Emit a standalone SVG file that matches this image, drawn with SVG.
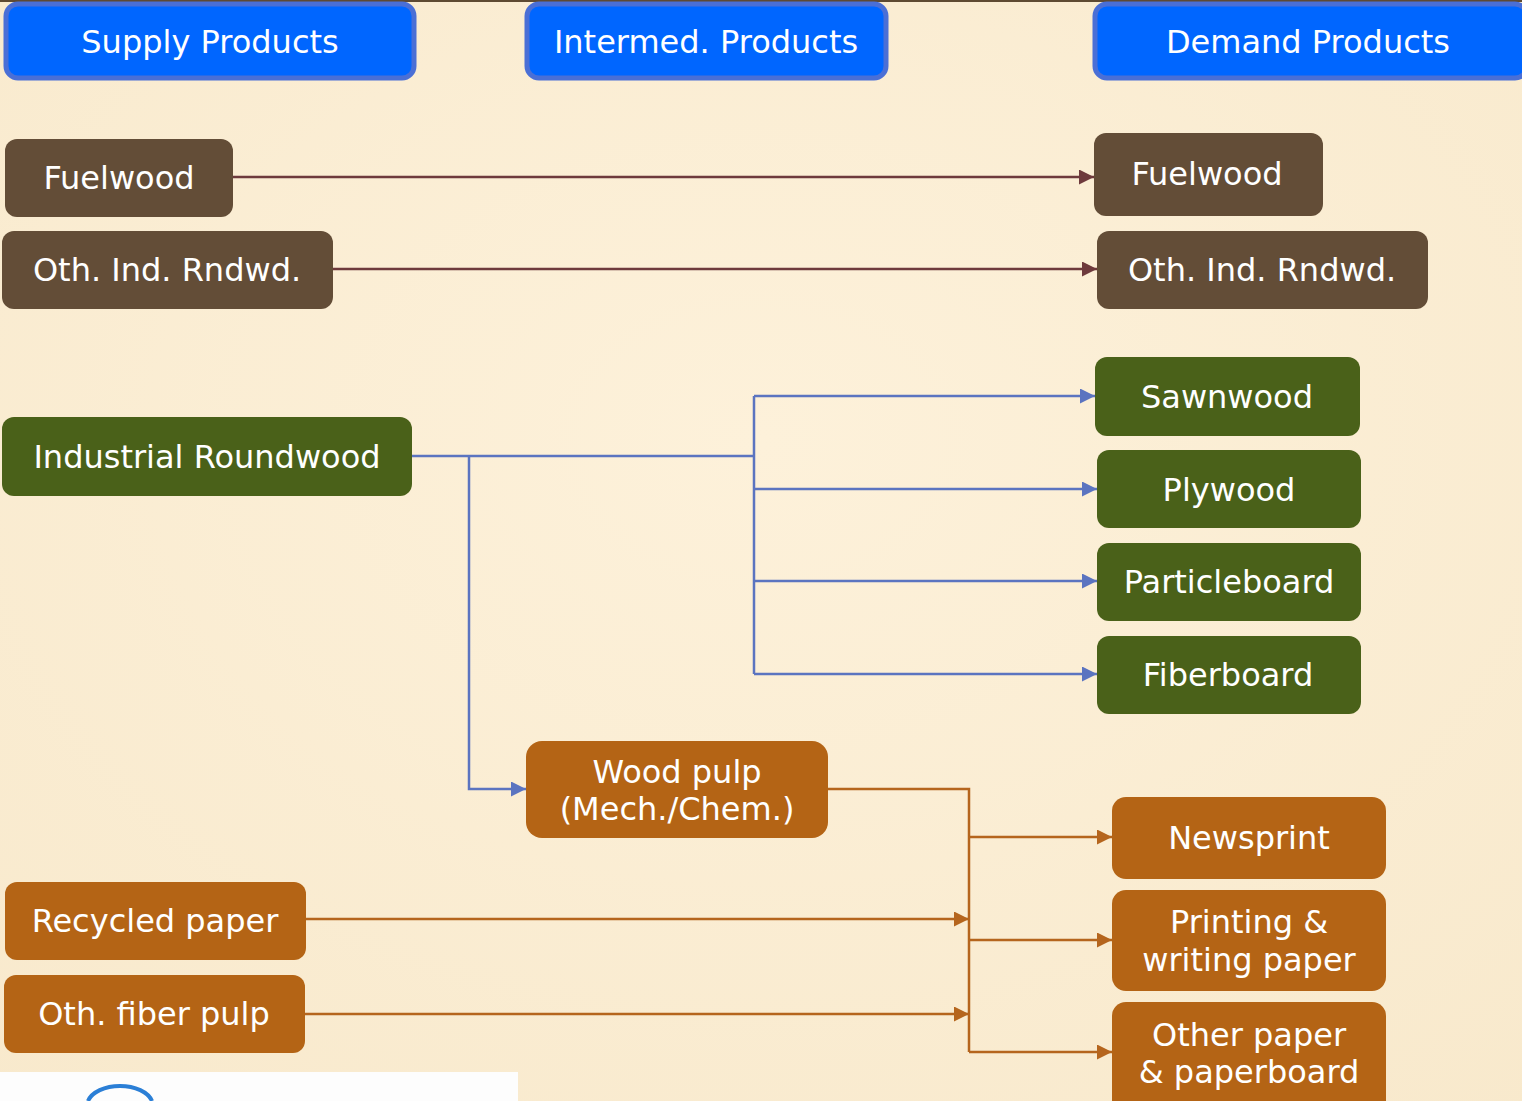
<svg xmlns="http://www.w3.org/2000/svg" width="1522" height="1101" viewBox="0 0 1522 1101">
<defs>
<style>
.t{font-family:"DejaVu Sans","Liberation Sans",sans-serif;font-size:32px;fill:#ffffff;text-anchor:middle}
.hdr{fill:#0066ff;stroke:#4a6fd6;stroke-width:5}
.br{fill:#634d37}
.gr{fill:#4a6119}
.or{fill:#b46415}
.cb{fill:none;stroke:#6e3a3c;stroke-width:2.5}
.cl{fill:none;stroke:#5b74c0;stroke-width:2.5}
.co{fill:none;stroke:#b5651d;stroke-width:2.5}
</style>
<radialGradient id="bg" cx="0.5" cy="0.4" r="0.8">
<stop offset="0" stop-color="#fdf1da"/>
<stop offset="1" stop-color="#f8e9cc"/>
</radialGradient>
<marker id="ab" viewBox="0 0 10 10" refX="10" refY="5" markerWidth="6" markerHeight="6" orient="auto" markerUnits="strokeWidth"><path d="M0,0 L10,5 L0,10 z" fill="#6e3a3c"/></marker>
<marker id="al" viewBox="0 0 10 10" refX="10" refY="5" markerWidth="6" markerHeight="6" orient="auto" markerUnits="strokeWidth"><path d="M0,0 L10,5 L0,10 z" fill="#5b74c0"/></marker>
<marker id="ao" viewBox="0 0 10 10" refX="10" refY="5" markerWidth="6" markerHeight="6" orient="auto" markerUnits="strokeWidth"><path d="M0,0 L10,5 L0,10 z" fill="#b5651d"/></marker>
</defs>
<rect x="0" y="0" width="1522" height="1101" fill="url(#bg)"/>
<rect x="0" y="0" width="1522" height="2" fill="#5e4a32"/>
<rect x="0" y="1072" width="518" height="29" fill="#fdfdfd"/>
<path d="M88,1101 A33,20 0 0 1 152,1101" fill="none" stroke="#2b7fd6" stroke-width="4"/>

<g id="connectors">
<path class="cb" d="M233,177 H1094" marker-end="url(#ab)"/>
<path class="cb" d="M333,269 H1097" marker-end="url(#ab)"/>
<path class="cl" d="M412,456 H754"/>
<path class="cl" d="M754,396 V674"/>
<path class="cl" d="M754,396 H1095" marker-end="url(#al)"/>
<path class="cl" d="M754,489 H1097" marker-end="url(#al)"/>
<path class="cl" d="M754,581 H1097" marker-end="url(#al)"/>
<path class="cl" d="M754,674 H1097" marker-end="url(#al)"/>
<path class="cl" d="M469,456 V789 H526" marker-end="url(#al)"/>
<path class="co" d="M828,789 H969 V1052"/>
<path class="co" d="M969,837 H1112" marker-end="url(#ao)"/>
<path class="co" d="M969,940 H1112" marker-end="url(#ao)"/>
<path class="co" d="M969,1052 H1112" marker-end="url(#ao)"/>
<path class="co" d="M306,919 H969" marker-end="url(#ao)"/>
<path class="co" d="M305,1014 H969" marker-end="url(#ao)"/>
</g>

<g id="hdr-supply"><rect class="hdr" x="6" y="4" width="408" height="74" rx="12"/><text class="t" x="210" y="53">Supply Products</text></g>
<g id="hdr-intermed"><rect class="hdr" x="527" y="4" width="359" height="74" rx="12"/><text class="t" x="706" y="53">Intermed. Products</text></g>
<g id="hdr-demand"><rect class="hdr" x="1095" y="4" width="432" height="74" rx="12"/><text class="t" x="1308" y="53">Demand Products</text></g>

<g id="fuelwood-s"><rect class="br" x="5" y="139" width="228" height="78" rx="12"/><text class="t" x="119" y="189">Fuelwood</text></g>
<g id="othind-s"><rect class="br" x="2" y="231" width="331" height="78" rx="12"/><text class="t" x="167" y="281">Oth. Ind. Rndwd.</text></g>
<g id="fuelwood-d"><rect class="br" x="1094" y="133" width="229" height="83" rx="12"/><text class="t" x="1207" y="185">Fuelwood</text></g>
<g id="othind-d"><rect class="br" x="1097" y="231" width="331" height="78" rx="12"/><text class="t" x="1262" y="281">Oth. Ind. Rndwd.</text></g>

<g id="indround"><rect class="gr" x="2" y="417" width="410" height="79" rx="12"/><text class="t" x="207" y="468">Industrial Roundwood</text></g>
<g id="sawnwood"><rect class="gr" x="1095" y="357" width="265" height="79" rx="12"/><text class="t" x="1227" y="408">Sawnwood</text></g>
<g id="plywood"><rect class="gr" x="1097" y="450" width="264" height="78" rx="12"/><text class="t" x="1229" y="501">Plywood</text></g>
<g id="particleboard"><rect class="gr" x="1097" y="543" width="264" height="78" rx="12"/><text class="t" x="1229" y="593">Particleboard</text></g>
<g id="fiberboard"><rect class="gr" x="1097" y="636" width="264" height="78" rx="12"/><text class="t" x="1228" y="686">Fiberboard</text></g>

<g id="woodpulp"><rect class="or" x="526" y="741" width="302" height="97" rx="16"/><text class="t" x="677" y="783">Wood pulp</text><text class="t" x="677" y="820">(Mech./Chem.)</text></g>
<g id="newsprint"><rect class="or" x="1112" y="797" width="274" height="82" rx="14"/><text class="t" x="1249" y="849">Newsprint</text></g>
<g id="printing"><rect class="or" x="1112" y="890" width="274" height="101" rx="14"/><text class="t" x="1249" y="933">Printing &amp;</text><text class="t" x="1249" y="971">writing paper</text></g>
<g id="otherpaper"><rect class="or" x="1112" y="1002" width="274" height="115" rx="14"/><text class="t" x="1249" y="1046">Other paper</text><text class="t" x="1249" y="1083">&amp; paperboard</text></g>
<g id="recycled"><rect class="or" x="5" y="882" width="301" height="78" rx="12"/><text class="t" x="155" y="932">Recycled paper</text></g>
<g id="othfiber"><rect class="or" x="4" y="975" width="301" height="78" rx="12"/><text class="t" x="154" y="1025">Oth. fiber pulp</text></g>
</svg>
